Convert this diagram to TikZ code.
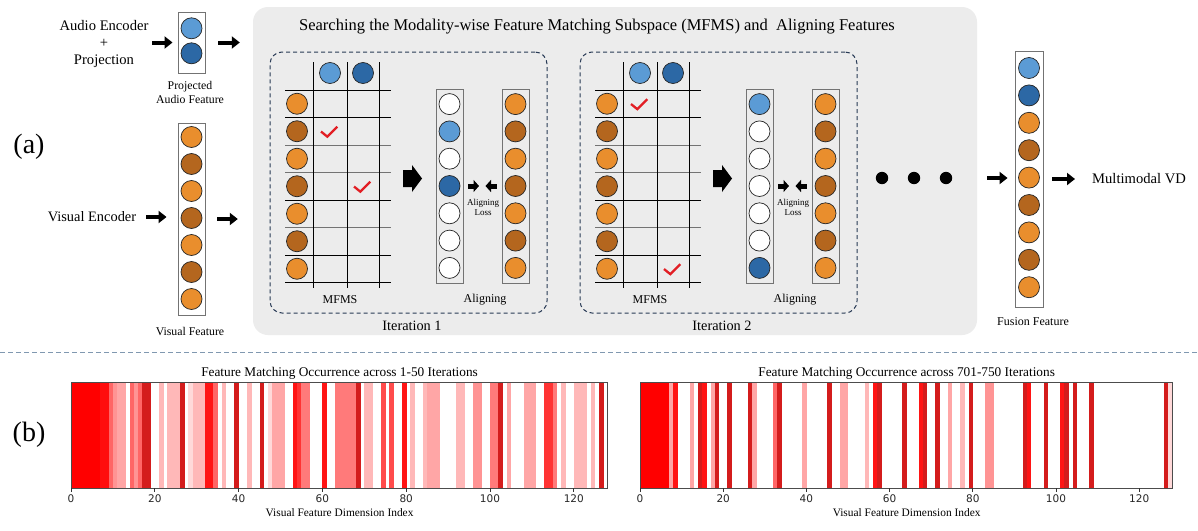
\documentclass[tikz,border=0pt]{standalone}
\usepackage{fontspec}
\setmainfont{Liberation Serif}
\newfontfamily\dejavu{DejaVu Sans}
\usetikzlibrary{arrows.meta,calc}
\definecolor{LO}{RGB}{233,142,45}
\definecolor{DO}{RGB}{180,102,30}
\definecolor{LB}{RGB}{91,155,213}
\definecolor{DB}{RGB}{44,104,165}
\definecolor{bgG}{RGB}{236,236,236}
\definecolor{navy}{RGB}{40,58,85}
\definecolor{hd}{RGB}{212,28,28}
\definecolor{sepc}{RGB}{128,152,176}
\definecolor{chkc}{RGB}{226,30,36}
\newcommand{\fsz}[2]{\fontsize{#1}{#2}\selectfont}
\tikzset{
 feat/.style={circle, draw=black!85, line width=0.7pt, minimum size=21pt, inner sep=0pt},
 fLO/.style={feat, fill=LO}, fDO/.style={feat, fill=DO},
 fLB/.style={feat, fill=LB}, fDB/.style={feat, fill=DB},
 fE/.style={feat, fill=white},
 col/.style={draw=black!55, line width=0.9pt, inner sep=0pt, minimum width=27pt},
 arr/.style={line width=4pt, -{Triangle[length=8pt,width=12pt]}},
 sarr/.style={line width=5pt, -{Triangle[length=5.5pt,width=12pt]}},
 gridl/.style={line width=0.9pt},
 chk/.style={draw=chkc, line width=2.3pt},
 dbox/.style={draw=navy, dash pattern=on 4pt off 3pt, line width=1pt, rounded corners=12pt, minimum width=277pt, minimum height=261pt, inner sep=0},
 dotn/.style={circle, fill=black, minimum size=12.4pt, inner sep=0},
 txt/.style={inner sep=0pt, text=black},
}
\newcommand{\iterbox}[8]{%
\begin{scope}[xshift=#2]
\node[dbox] (box#1) at (408.5,182.5) {};
\node[txt, font=\fsz{14.3}{16}] (iter#1) at (412,326) {#8};
\foreach \j/\gc in {0/black,1/black,2/black!55,3/black!55,4/black,5/black!55,6/black,7/black}{\pgfmathsetmacro\yy{90+27.5*\j}\draw[gridl, draw=\gc] (285,\yy) -- (391,\yy);}
\foreach \xx in {313,347,379}{\draw[gridl] (\xx,62) -- (\xx,288);}
\node[fLB] (ta#1) at (330,73) {};
\node[fDB] (tb#1) at (363,73) {};
\foreach \s [count=\i from 0] in {fLO,fDO,fLO,fDO,fLO,fDO,fLO}{\node[\s] (r#1x\i) at (297,{103.75+27.5*\i}) {};}
\draw[chk] ({330+33*#5-9},{103.75+27.5*#4+0.3}) -- ++(6.3,5.1) -- ++(10,-9.9);
\draw[chk] ({330+33*#7-9},{103.75+27.5*#6+0.3}) -- ++(6.3,5.1) -- ++(10,-9.9);
\fill (403,170) -- (412,170) -- (412,165) -- (422,178.5) -- (412,192) -- (412,187) -- (403,187) -- cycle;
\node[col, minimum height=194pt] (ca#1) at (449.5,186) {};
\foreach \s [count=\i from 0] in {#3}{\node[\s] (ca#1x\i) at (449.5,{104.1+27.3*\i}) {};}
\node[col, minimum height=194pt] (cb#1) at (515.5,186) {};
\foreach \s [count=\i from 0] in {fLO,fDO,fLO,fDO,fLO,fDO,fLO}{\node[\s] (cb#1x\i) at (515.5,{104.1+27.3*\i}) {};}
\draw[sarr, shorten <=5pt, shorten >=3.5pt] (ca#1.east) -- ($(ca#1.east)!0.5!(cb#1.west)$);
\draw[sarr, shorten <=5pt, shorten >=3pt] (cb#1.west) -- ($(ca#1.east)!0.5!(cb#1.west)$);
\node[txt, font=\fsz{9}{10}, align=center] (al#1) at (483,207) {Aligning\\Loss};
\node[txt, font=\fsz{12}{14}] (mf#1) at (340,300) {MFMS};
\node[txt, font=\fsz{12}{14}] (ag#1) at (485,300) {Aligning};
\end{scope}}
\newcommand{\heatmap}[5]{% x0, w, name, list, title
\foreach \v [count=\i from 0] in {#4}{\ifnum\v>100 \fill[hd] ({#1+\i*#2},382) rectangle ({#1+(\i+1)*#2+0.4},488);\else\ifnum\v>0 \fill[red!\v!white] ({#1+\i*#2},382) rectangle ({#1+(\i+1)*#2+0.4},488);\fi\fi}
\node[draw=black!70, line width=0.8pt, minimum width={128*#2}, minimum height=106pt, inner sep=0, anchor=north west] (#3) at (#1,382) {};
\foreach \k in {0,...,6}{\draw[black!80, line width=0.7pt] ({#1+20*\k*#2},488) -- ({#1+20*\k*#2},492);
 \node[txt, font=\dejavu\fsz{10.5}{12}, text=black!85] at ({#1+20*\k*#2},499) {\the\numexpr20*\k\relax};}
\node[txt, font=\fsz{13.3}{15}] (#3t) at ($(#3.north)+(0,-9)$) {#5};
\node[txt, font=\fsz{11.4}{13}] (#3x) at ($(#3.south)+(0,24)$) {Visual Feature Dimension Index};
}
\begin{document}
\begin{tikzpicture}[x=1pt,y=-1pt]
\useasboundingbox (0,0) rectangle (1198,530);
\fill[white] (0,0) rectangle (1198,530);
% gray panel
\node[fill=bgG, rounded corners=15pt, minimum width=724pt, minimum height=328pt, inner sep=0] (gray) at (615,171) {};
\node[txt, font=\fsz{16.5}{18}] (title) at (597,27) {Searching the Modality-wise Feature Matching Subspace (MFMS) and\ \ Aligning Features};
% labels
\node[txt, font=\fsz{28}{30}] (lbla) at (29,147) {(a)};
\node[txt, font=\fsz{28}{30}] (lblb) at (29,435) {(b)};
% audio
\node[txt, font=\fsz{14.6}{17}, align=center] (audtxt) at (104,44) {Audio Encoder\\+\\Projection};
\node[col, minimum height=61pt] (audcol) at (191.5,42.5) {};
\node[fLB] (aud1) at (191.5,28.3) {};
\node[fDB] (aud2) at (191.5,53.3) {};
\node[txt, font=\fsz{11.8}{14}, align=center] (audlbl) at (190,92) {Projected\\Audio Feature};
\draw[arr, shorten <=3.5pt, shorten >=5pt] (audtxt.east |- audcol) -- (audcol.west);
\draw[arr, shorten <=13pt, shorten >=13pt] (audcol.east) -- (audcol.east -| gray.west);
% visual
\node[txt, font=\fsz{14.4}{17}] (vistxt) at (92,217) {Visual Encoder};
\node[col, minimum height=192pt] (viscol) at (191.5,219) {};
\foreach \s [count=\i from 0] in {fLO,fDO,fLO,fDO,fLO,fDO,fLO}{\node[\s] (vis\i) at (191.5,{137+27*\i}) {};}
\node[txt, font=\fsz{11.8}{14}] (vislbl) at (190,331) {Visual Feature};
\draw[arr, shorten <=10pt, shorten >=11pt] (vistxt.east) -- (vistxt.east -| viscol.west);
\draw[arr, shorten <=12pt, shorten >=15pt] (viscol.east) -- (viscol.east -| gray.west);
% iterations
\iterbox{1}{0}{fE,fLB,fE,fDB,fE,fE,fE}{1}{0}{3}{1}{Iteration 1}
\iterbox{2}{310}{fLB,fE,fE,fE,fE,fE,fDB}{0}{0}{6}{1}{Iteration 2}
% dots
\node[dotn] (d1) at (882,178) {};
\node[dotn] (d2) at (914,178) {};
\node[dotn] (d3) at (946,178) {};
% fusion
\node[col, minimum height=256pt, minimum width=28pt] (fuscol) at (1029,179) {};
\foreach \s [count=\i from 0] in {fLB,fDB,fLO,fDO,fLO,fDO,fLO,fDO,fLO}{\node[\s] (fus\i) at (1029,{68+27.4*\i}) {};}
\node[txt, font=\fsz{12}{14}] (fuslbl) at (1033,322) {Fusion Feature};
\node[txt, font=\fsz{14.6}{17}, anchor=west] (mvd) at (1092,179) {Multimodal VD};
\draw[arr, shorten <=35pt, shorten >=7pt] (d3.east) -- (d3.east -| fuscol.west);
\draw[arr, shorten <=9pt, shorten >=17pt] (fuscol.east) -- (mvd.west);
% separator
\coordinate (sepL) at (0,352);
\coordinate (sepR) at (1198,352);
\draw[sepc, dash pattern=on 5pt off 3pt, line width=0.8pt] (sepL) -- (sepR);
% heat maps
\heatmap{71}{4.19}{hmA}{100,100,100,100,100,100,100,95,95,60,
42,35,35,0,60,42,60,101,101,0,
0,28,0,28,28,28,101,0,15,28,
28,28,92,92,60,0,28,0,0,101,
0,0,28,0,0,101,0,15,35,35,
35,0,0,92,80,52,52,0,0,0,
92,0,0,52,52,52,52,52,101,0,
28,28,0,0,70,0,70,0,0,92,
0,28,0,0,28,35,35,35,0,0,
0,0,28,28,0,0,42,42,0,0,
52,52,101,0,35,0,0,0,35,35,
35,0,0,80,80,52,0,28,0,0,
28,28,28,0,28,0,101,0}{Feature Matching Occurrence across 1-50 Iterations}
\heatmap{640}{4.16}{hmB}{100,100,100,100,100,100,100,35,92,0,
0,0,35,0,101,92,0,35,101,0,
0,101,0,0,0,0,101,35,0,0,
0,0,60,101,0,0,0,0,0,35,
0,0,0,0,0,101,0,0,35,35,
0,0,0,0,28,0,92,101,0,0,
0,0,0,101,0,0,0,92,101,0,
0,101,0,0,35,0,0,28,0,101,
0,0,0,42,42,0,0,0,0,0,
0,0,101,92,0,0,0,101,0,0,
0,92,101,0,101,0,0,0,101,0,
0,0,0,0,0,0,0,0,0,0,
0,0,0,0,0,0,101,15}{Feature Matching Occurrence across 701-750 Iterations}
\end{tikzpicture}
\end{document}
